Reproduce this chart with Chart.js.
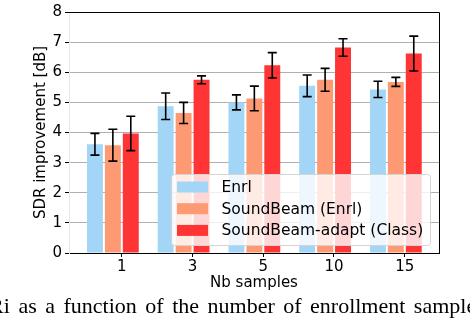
<!DOCTYPE html>
<html>
<head>
<meta charset="utf-8">
<script src="https://cdn.jsdelivr.net/npm/chart.js@4.4.0/dist/chart.umd.min.js"></script>
<style>
  html, body { margin: 0; padding: 0; background: #fff; overflow: hidden; }
  #wrap { position: relative; width: 470px; height: 318px; }
  #caption {
    position: absolute; left: -39px; top: 293px;
    font-family: 'Liberation Serif', serif; font-size: 22px; line-height: 25px;
    white-space: nowrap; word-spacing: 3px; color: #000;
  }
</style>
</head>
<body>
<div id="wrap">
  <canvas id="chart" width="470" height="318"></canvas>
  <div id="caption">SDRi as a function of the number of enrollment samples.</div>
</div>
<script>
// data
var cats = ['1', '3', '5', '10', '15'];
var enrl = [3.61, 4.87, 5.00, 5.55, 5.43];
var enrlErr = [0.36, 0.44, 0.25, 0.36, 0.27];
var soundbeam = [3.58, 4.65, 5.13, 5.75, 5.68];
var soundbeamErr = [0.53, 0.35, 0.41, 0.38, 0.15];
var adapt = [3.97, 5.75, 6.23, 6.82, 6.62];
var adaptErr = [0.57, 0.13, 0.42, 0.29, 0.58];
var seriesNames = ['Enrl', 'SoundBeam (Enrl)', 'SoundBeam-adapt (Class)'];
var colors = ['#a3d5f6', '#fd9a73', '#ff3434'];

var font = { family: 'DejaVu Sans', size: 15 };

function points(vals) {
  return vals.map(function(v, i) { return { x: i, y: v }; });
}

// black error bars with caps
var errorBars = {
  id: 'errorBars',
  afterDatasetsDraw: function(chart) {
    var ctx = chart.ctx, y = chart.scales.y;
    ctx.save();
    ctx.strokeStyle = '#000';
    ctx.lineWidth = 1.6;
    chart.data.datasets.forEach(function(ds, d) {
      chart.getDatasetMeta(d).data.forEach(function(bar, i) {
        var v = ds.data[i].y, e = ds.errors[i];
        var top = y.getPixelForValue(v + e), bot = y.getPixelForValue(v - e);
        ctx.beginPath();
        ctx.moveTo(bar.x, top); ctx.lineTo(bar.x, bot);
        ctx.moveTo(bar.x - 4.5, top); ctx.lineTo(bar.x + 4.5, top);
        ctx.moveTo(bar.x - 4.5, bot); ctx.lineTo(bar.x + 4.5, bot);
        ctx.stroke();
      });
    });
    ctx.restore();
  }
};

// top/right spines and the legend box inside the plot
var frameAndLegend = {
  id: 'frameAndLegend',
  afterDraw: function(chart) {
    var ctx = chart.ctx, a = chart.chartArea;
    ctx.save();
    ctx.strokeStyle = '#000';
    ctx.lineWidth = 1;
    ctx.beginPath();
    ctx.moveTo(a.left, a.top + 0.5); ctx.lineTo(a.right + 0.5, a.top + 0.5);
    ctx.lineTo(a.right + 0.5, a.bottom);
    ctx.stroke();

    var bx = 171.5, by = 174.5, bw = 259, bh = 71;
    ctx.beginPath();
    ctx.roundRect(bx, by, bw, bh, 3);
    ctx.fillStyle = 'rgba(255,255,255,0.8)';
    ctx.fill();
    ctx.strokeStyle = '#d4d4d4';
    ctx.stroke();

    ctx.font = '15.5px "DejaVu Sans"';
    ctx.textBaseline = 'middle';
    ctx.textAlign = 'left';
    chart.data.datasets.forEach(function(ds, i) {
      var cy = 187 + i * 21.7;
      ctx.fillStyle = ds.backgroundColor;
      ctx.fillRect(177, cy - 5.5, 31, 11);
      ctx.fillStyle = '#000';
      ctx.fillText(ds.label, 221.5, cy + 1);
    });
    ctx.restore();
  }
};

new Chart(document.getElementById('chart'), {
  type: 'bar',
  data: {
    datasets: [
      { label: seriesNames[0], data: points(enrl), errors: enrlErr, backgroundColor: colors[0] },
      { label: seriesNames[1], data: points(soundbeam), errors: soundbeamErr, backgroundColor: colors[1] },
      { label: seriesNames[2], data: points(adapt), errors: adaptErr, backgroundColor: colors[2] }
    ]
  },
  options: {
    responsive: false,
    animation: false,
    devicePixelRatio: 1,
    layout: { padding: { top: 6, right: 31, left: 0, bottom: 0 } },
    datasets: { bar: { barPercentage: 0.889, categoryPercentage: 0.76, borderWidth: 0 } },
    plugins: { legend: { display: false }, tooltip: { enabled: false } },
    scales: {
      x: {
        type: 'linear',
        min: -0.62, max: 4.61,
        offset: false,
        afterBuildTicks: function(s) {
          s.ticks = cats.map(function(c, i) { return { value: i + 0.125 }; });
        },
        ticks: {
          callback: function(v, i) { return cats[i]; },
          autoSkip: false, maxRotation: 0, color: '#000', font: font, padding: 1
        },
        grid: { drawOnChartArea: false, offset: false, tickColor: '#000', tickLength: 4 },
        border: { color: '#000' },
        title: { display: true, text: 'Nb samples', color: '#000', font: font, padding: { top: 0, bottom: 26 } },
        afterFit: function(s) { s.height = 65; }
      },
      y: {
        min: 0, max: 8,
        ticks: { stepSize: 1, color: '#000', font: font, padding: 3 },
        grid: { color: '#b0b0b0', tickColor: '#000', tickLength: 4 },
        border: { color: '#e8e8e8' },
        title: { display: true, text: 'SDR improvement [dB]', color: '#000', font: font, padding: { top: 32, bottom: 0 } },
        afterFit: function(s) { s.width = 69; }
      }
    }
  },
  plugins: [errorBars, frameAndLegend]
});
</script>
</body>
</html>
